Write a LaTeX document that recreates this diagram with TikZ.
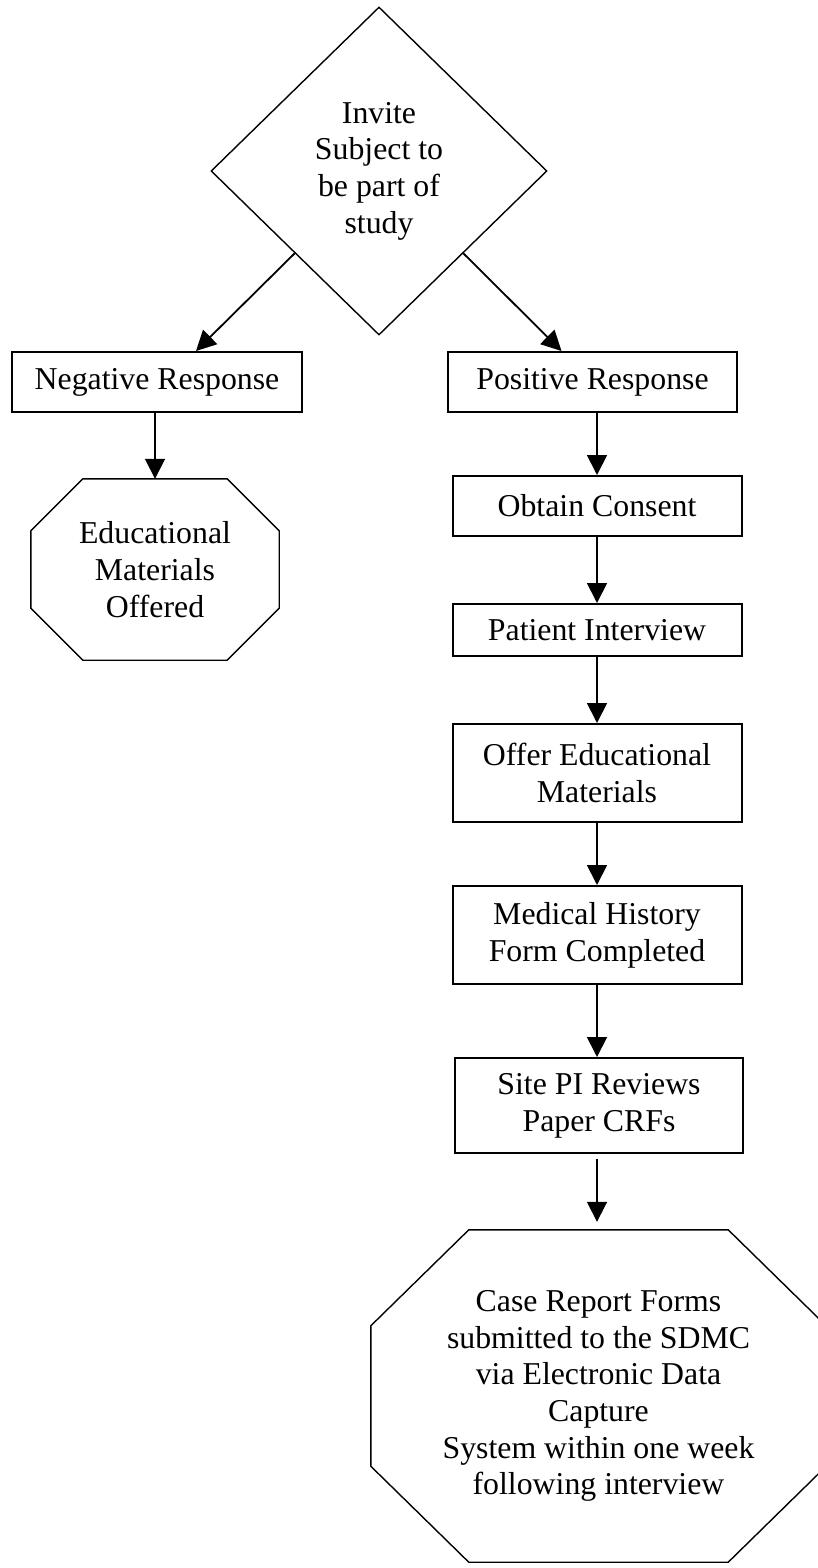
\documentclass[tikz,border=0pt]{standalone}
\usepackage{fontspec}
\setmainfont{Liberation Serif}
\usetikzlibrary{arrows.meta,shapes.geometric,calc}

% octagon round a plain node: node, x cut, y cut
\newcommand{\octagon}[3]{%
  \draw[line width=1.4pt] ($(#1.north west)+(#2,0)$) -- ($(#1.north east)+(-#2,0)$)
    -- ($(#1.north east)+(0,#3)$) -- ($(#1.south east)+(0,-#3)$)
    -- ($(#1.south east)+(-#2,0)$) -- ($(#1.south west)+(#2,0)$)
    -- ($(#1.south west)+(0,-#3)$) -- ($(#1.north west)+(0,#3)$) -- cycle;}

\tikzset{
  stepbox/.style={draw, rectangle, line width=2pt, minimum width=289pt},
  choice/.style={draw, diamond, line width=1.4pt, minimum width=336pt, minimum height=328pt},
  endbox/.style={rectangle},
  arr/.style={-{Triangle[length=20pt,width=20pt]}, line width=1.8pt}
}

\begin{document}
\begin{tikzpicture}[x=1pt, y=-1pt, line join=miter,
    font=\fontsize{31.8pt}{36.7pt}\selectfont]
    \useasboundingbox (0,0) rectangle (817,1568);

    \node[choice, align=center, inner sep=0pt] (invite) at (379,171) {Invite\\Subject to\\be part of\\study};

    \node[stepbox, minimum width=290pt, minimum height=60pt] (neg) at (157,382) {Negative Response};
    \node[stepbox, minimum height=60pt] (pos) at (592.5,382) {Positive Response};

    \node[endbox, align=center, minimum width=248pt, minimum height=181pt] (offered) at (155,569.5) {Educational\\Materials\\Offered};
    \octagon{offered}{52}{52}

    \node[stepbox, minimum height=60pt] (consent) at (597,506) {Obtain Consent};
    \node[stepbox, minimum height=52pt] (interview) at (597,630) {Patient Interview};
    \node[stepbox, align=center, minimum height=98pt] (offer) at (597,773) {Offer Educational\\Materials};
    \node[stepbox, align=center, minimum height=98pt] (history) at (597,935) {Medical History\\Form Completed};
    \node[stepbox, align=center, minimum width=288pt, minimum height=95pt] (sitepi) at (599,1105.5) {Site PI Reviews\\Paper CRFs};

    \node[endbox, align=center, minimum width=455pt, minimum height=332pt] (capture) at (598.5,1396) {Case Report Forms\\submitted to the SDMC\\via Electronic Data\\Capture\\System within one week\\following interview};
    \octagon{capture}{98}{96}

    \draw[arr] (invite.south west) -- ($(neg.north)+(39,0)$);
    \draw[arr] (invite.south east) -- ($(pos.north)+(-31,0)$);
    \draw[arr] (neg.south -| offered.north) -- (offered.north);
    \draw[arr] (pos.south -| consent.north) -- (consent.north);
    \draw[arr] (consent) -- (interview);
    \draw[arr] (interview) -- (offer);
    \draw[arr] (offer) -- (history);
    \draw[arr] (history) -- (sitepi.north -| history.south);
    \draw[arr, shorten <=5pt, shorten >=8pt] (sitepi.south -| history.south) -- (capture.north -| history.south);
\end{tikzpicture}
\end{document}
